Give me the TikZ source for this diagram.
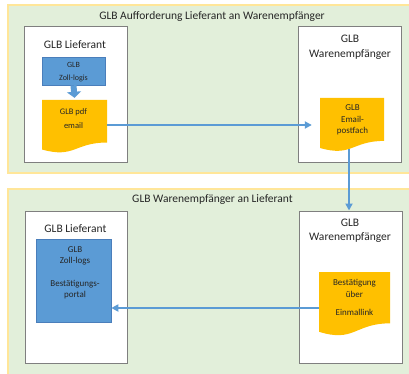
\documentclass[tikz,border=0pt]{standalone}
\usepackage{fontspec}
\setmainfont{Carlito}
\usetikzlibrary{arrows.meta,calc}
\definecolor{panelfill}{HTML}{E2EFDA}
\definecolor{panelline}{HTML}{FFE699}
\definecolor{boxline}{HTML}{7F7F7F}
\definecolor{bluefill}{HTML}{5B9BD5}
\definecolor{blueline}{HTML}{4A7EBB}
\definecolor{docorange}{HTML}{FFC000}
\definecolor{arrowblue}{HTML}{5B9BD5}
\definecolor{txt}{HTML}{262626}
\tikzset{
  panel/.style={rectangle, draw=panelline, line width=1.5pt, fill=panelfill, inner sep=0pt},
  whitebox/.style={rectangle, draw=boxline, line width=1pt, fill=white, inner sep=0pt},
  bluebox/.style={rectangle, draw=blueline, line width=0.6pt, fill=bluefill, inner sep=0pt},
  bigtxt/.style={font=\fontsize{11.5}{14.5}\selectfont, text=txt, align=center, inner sep=0pt},
  smalltxt/.style={font=\fontsize{9}{11.5}\selectfont, text=txt, align=center, inner sep=0pt},
  docshape/.style={rectangle, inner sep=0pt, path picture={
    \fill[docorange] (path picture bounding box.north west) -- (path picture bounding box.north east)
      -- ($(path picture bounding box.north east)!0.802!(path picture bounding box.south east)$)
      .. controls ($(path picture bounding box.north)!0.802!(path picture bounding box.south)$)
      and ($(path picture bounding box.north)!1.107!(path picture bounding box.south)$)
      .. ($(path picture bounding box.north west)!0.934!(path picture bounding box.south west)$) -- cycle;
  }},
  conn/.style={draw=arrowblue, line width=2pt, -{Triangle[length=7pt,width=7pt]}},
  blockarrow/.style={draw=arrowblue, line width=6pt, -{Triangle[length=6pt,width=14pt]}}
}
\begin{document}
\begin{tikzpicture}[x=1pt,y=-1pt]
\useasboundingbox (0,0) rectangle (409,374);
% panels
\node[panel, minimum width=407pt, minimum height=168pt] (p1) at (211.5,89) {};
\node[panel, minimum width=407pt, minimum height=191pt] (p2) at (211.5,284.5) {};
\node[bigtxt] (p1t) at (212,16) {GLB Aufforderung Lieferant an Warenempfänger};
\node[bigtxt] (p2t) at (212.5,200) {GLB Warenempfänger an Lieferant};
% white boxes
\node[whitebox, minimum width=103pt, minimum height=136pt] (lb1) at (75.5,95) {};
\node[whitebox, minimum width=103pt, minimum height=136pt] (rb1) at (349.5,95) {};
\node[whitebox, minimum width=102pt, minimum height=152pt] (lb2) at (76,287) {};
\node[whitebox, minimum width=103pt, minimum height=152pt] (rb2) at (350.5,287) {};
\node[bigtxt] (lb1t) at (75,45) {GLB Lieferant};
\node[bigtxt] (rb1t) at (350,47.5) {GLB\\Warenempfänger};
\node[bigtxt] (lb2t) at (75.5,228.5) {GLB Lieferant};
\node[bigtxt] (rb2t) at (350,231) {GLB\\Warenempfänger};
% blue boxes
\node[bluebox, minimum width=63pt, minimum height=28pt] (blue1) at (73.5,71) {};
\node[smalltxt, font=\fontsize{8}{13}\selectfont] (blue1t) at (73.5,72.5) {GLB\\Zoll-logis};
\node[bluebox, minimum width=75pt, minimum height=83pt] (blue2) at (73.5,280.5) {};
\node[smalltxt] (blue2t) at (75,273) {GLB\\Zoll-logs\\[11pt]Bestätigungs-\\portal};
% documents
\node[docshape, minimum width=65pt, minimum height=53pt] (doc1) at (74.5,126.5) {};
\node[smalltxt, font=\fontsize{8.5}{13.3}\selectfont] (doc1t) at (73.5,118.5) {GLB pdf\\email};
\node[docshape, minimum width=64pt, minimum height=53.5pt] (doc2) at (352,124.75) {};
\node[smalltxt] (doc2t) at (352.5,120) {GLB\\Email-\\postfach};
\node[docshape, minimum width=71pt, minimum height=64pt] (doc3) at (354.5,304) {};
\node[smalltxt] (doc3t) at (354.5,297.5) {Bestätigung\\über\\[7pt]Einmallink};
% connectors
\draw[blockarrow] (blue1.south) -- ([yshift=2pt]doc1.north);
\coordinate (c1end) at ([xshift=-8pt]doc2.west);
\draw[conn] ([yshift=1.5pt]doc1.east) -- ([yshift=1.5pt]doc1.east -| c1end);
\coordinate (c2start) at ([xshift=-3pt,yshift=3pt]doc2.south);
\draw[conn] (c2start) -- (c2start |- rb2.north);
\coordinate (c3start) at ([yshift=-4pt]doc3.west);
\draw[conn] (c3start) -- (c3start -| blue2.east);
\end{tikzpicture}
\end{document}
